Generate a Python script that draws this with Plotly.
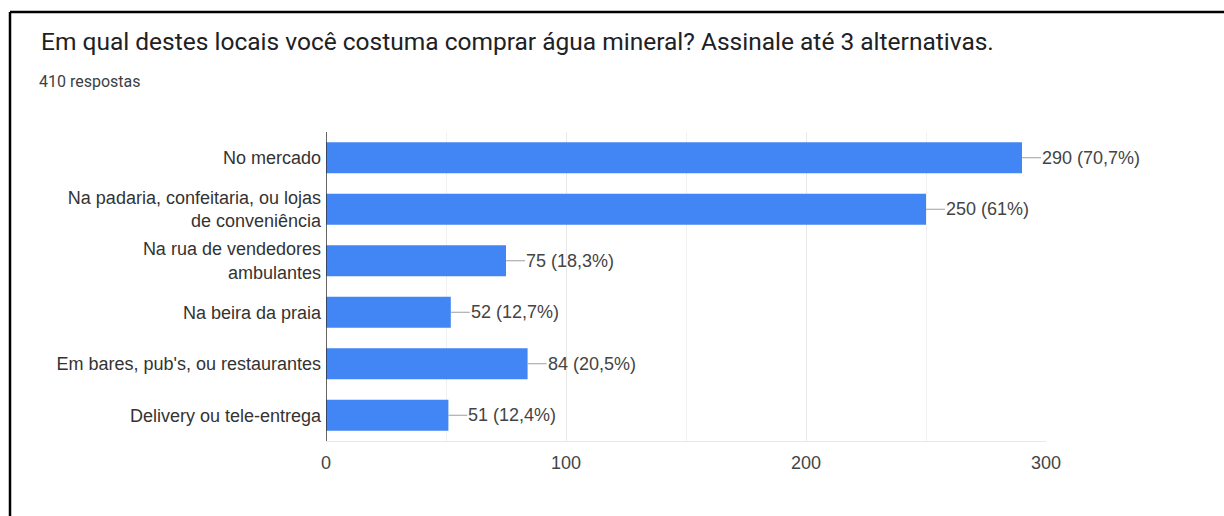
import plotly.graph_objects as go

# Survey answers: where people usually buy mineral water (up to 3 choices)
categories = [
    "No mercado",
    "Na padaria, confeitaria, ou lojas<br>de conveniência",
    "Na rua de vendedores<br>ambulantes",
    "Na beira da praia",
    "Em bares, pub's, ou restaurantes",
    "Delivery ou tele-entrega",
]
counts = [290, 250, 75, 52, 84, 51]
percent_labels = ["70,7%", "61%", "18,3%", "12,7%", "20,5%", "12,4%"]
x_ticks = [0, 100, 200, 300]

title_text = "Em qual destes locais você costuma comprar água mineral? Assinale até 3 alternativas."
subtitle_text = "410 respostas"

W, H = 1224, 516
M_L, M_R, M_T, M_B = 326, 178, 132, 75
plot_w = W - M_L - M_R
plot_h = H - M_T - M_B

LABEL_FONT = "Liberation Sans, Arial"


def px_x(px):
    return (px - M_L) / plot_w


def px_y(py):
    return (H - M_B - py) / plot_h


fig = go.Figure(
    go.Bar(
        x=counts,
        y=categories,
        orientation="h",
        marker=dict(color="#4285f4", line=dict(width=0)),
        hoverinfo="x+y",
    )
)

# value labels with a short leader line from the end of each bar
for cat, val, pct in zip(categories, counts, percent_labels):
    fig.add_annotation(
        x=val,
        y=cat,
        xref="x",
        yref="y",
        text=f"{val} ({pct})",
        showarrow=True,
        arrowhead=0,
        arrowwidth=1,
        arrowcolor="#9e9e9e",
        ax=19,
        ay=0,
        xanchor="left",
        yanchor="middle",
        borderpad=0,
        standoff=0,
        startstandoff=0,
        font=dict(family=LABEL_FONT, size=18, color="#444444"),
    )

# heading and response count
fig.add_annotation(
    x=px_x(39), y=px_y(41), xref="paper", yref="paper",
    text=title_text, showarrow=False, xanchor="left", yanchor="middle",
    font=dict(family="Roboto", size=24.5, color="#202124"),
)
fig.add_annotation(
    x=px_x(37), y=px_y(82), xref="paper", yref="paper",
    text=subtitle_text, showarrow=False, xanchor="left", yanchor="middle",
    font=dict(family="Roboto", size=16, color="#3c4043"),
)

# frame along the top and left edges
fig.add_shape(type="line", xref="paper", yref="paper",
              x0=px_x(10), x1=px_x(W + 5), y0=px_y(12), y1=px_y(12),
              line=dict(color="#000000", width=2.5))
fig.add_shape(type="line", xref="paper", yref="paper",
              x0=px_x(10), x1=px_x(10), y0=px_y(12), y1=px_y(H + 5),
              line=dict(color="#000000", width=2.5))

fig.update_layout(
    width=W,
    height=H,
    margin=dict(l=M_L, r=M_R, t=M_T, b=M_B, pad=0),
    paper_bgcolor="#ffffff",
    plot_bgcolor="#ffffff",
    bargap=0.4,
    showlegend=False,
    font=dict(family=LABEL_FONT, size=18, color="#333333"),
    xaxis=dict(
        range=[0, 300],
        tickvals=x_ticks,
        ticktext=[str(t) for t in x_ticks],
        showgrid=True,
        gridcolor="#e8e8e8",
        gridwidth=1,
        minor=dict(dtick=50, showgrid=True, gridcolor="#f0f0f0", gridwidth=1),
        zeroline=False,
        showline=True,
        linecolor="#e8e8e8",
        linewidth=1,
        ticks="outside",
        ticklen=5,
        tickcolor="rgba(0,0,0,0)",
        tickfont=dict(family=LABEL_FONT, size=18, color="#444444"),
        fixedrange=True,
    ),
    yaxis=dict(
        categoryorder="array",
        categoryarray=categories,
        autorange="reversed",
        showgrid=False,
        zeroline=False,
        showline=False,
        ticks="",
        ticklabelstandoff=4,
        tickfont=dict(family=LABEL_FONT, size=18, color="#333333"),
        fixedrange=True,
    ),
)

# dark baseline at zero
fig.add_shape(type="line", xref="x", yref="paper", x0=0, x1=0, y0=0, y1=1,
              line=dict(color="#333333", width=1.5))

fig.write_html("out.html")
